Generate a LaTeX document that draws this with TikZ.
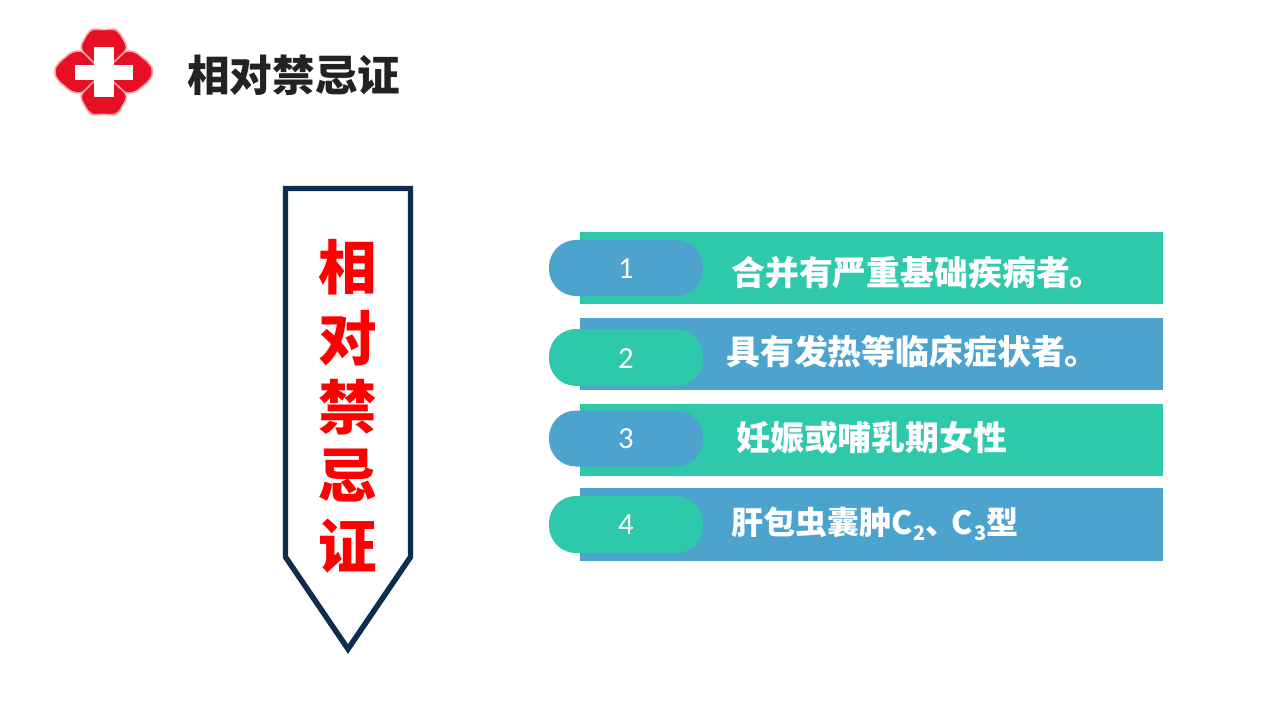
\documentclass[tikz,border=0pt]{standalone}
\usepackage{fontspec}
\setmainfont{Carlito}
\newfontfamily\cjk{Noto Sans CJK SC}
\definecolor{teal1}{HTML}{2EC8AA}
\definecolor{blue1}{HTML}{4BA3CE}
\definecolor{navy1}{HTML}{0F2D50}
\definecolor{logored}{HTML}{E60F23}
\definecolor{logopink}{HTML}{F7A8AE}
\definecolor{titleink}{HTML}{222222}
\newcommand{\subdigit}[1]{\raisebox{-5pt}{\fontsize{15}{17}\selectfont #1}}
\tikzset{
  barbox/.style={draw=none,minimum width=583*0.75pt,minimum height=72*0.75pt,inner sep=0pt,anchor=north west},
  pillbox/.style={draw=none,rounded corners=27*0.75pt,minimum width=154*0.75pt,minimum height=56*0.75pt,inner sep=0pt},
  numtext/.style={text=white,font=\fontsize{23}{26}\selectfont,inner sep=0pt},
  bartext/.style={text=white,font=\cjk\bfseries\fontsize{25.4}{28}\selectfont,inner sep=0pt,anchor=west},
  vchar/.style={text=red,font=\cjk\bfseries\fontsize{44}{48}\selectfont,inner sep=0pt},
  lobe/.style={fill=logored,draw=logopink,line width=1.2pt,line join=round,rounded corners=4pt},
}
\begin{document}
\begin{tikzpicture}[x=0.75pt,y=-0.75pt]
\useasboundingbox (0,0) rectangle (1280,720);
\fill[white] (0,0) rectangle (1280,720);
% logo
\begin{scope}[shift={(40,15)},x=0.25pt,y=-0.25pt]
\draw[lobe] (42,170)--(50,148)--(98,108)--(132,108)--(190,172)--(132,234)--(98,234)--(50,194)--cycle;
\draw[lobe] (340,170)--(332,148)--(284,108)--(250,108)--(190,172)--(250,234)--(284,234)--(332,194)--cycle;
\draw[lobe] (190,46)--(218,40)--(236,48)--(265,100)--(190,172)--(118,100)--(146,48)--(164,40)--cycle;
\draw[lobe] (190,296)--(218,302)--(236,294)--(265,242)--(190,172)--(118,242)--(146,294)--(164,302)--cycle;
\fill[white] (163,95) rectangle (222,247);
\fill[white] (105,150) rectangle (278,195);
\end{scope}
\node[text=titleink,font=\cjk\bfseries\fontsize{32}{36}\selectfont,inner sep=0pt,anchor=west] (title) at (187,75) {相对禁忌证};
% pentagon
\draw[draw=navy1,line width=4.1pt,line join=miter,fill=white] (285.5,188.5)--(410.5,188.5)--(410.5,557)--(348,649)--(285.5,557)--cycle;
\node[vchar] (c1) at (348,267) {相};
\node[vchar] (c2) at (348,338) {对};
\node[vchar] (c3) at (348,407) {禁};
\node[vchar] (c4) at (348,476) {忌};
\node[vchar] (c5) at (348,546) {证};
% bars
\node[barbox,fill=teal1] (b1) at (580,232) {};
\node[barbox,fill=blue1] (b2) at (580,318) {};
\node[barbox,fill=teal1] (b3) at (580,404) {};
\node[barbox,fill=blue1,minimum height=73*0.75pt] (b4) at (580,488) {};
% pills
\node[pillbox,fill=blue1] (p1) at (626,268) {};
\node[pillbox,fill=teal1,minimum height=57*0.75pt] (p2) at (626,357.5) {};
\node[pillbox,fill=blue1] (p3) at (626,438.5) {};
\node[pillbox,fill=teal1,minimum height=57*0.75pt] (p4) at (626,524.5) {};
\node[numtext] (n1) at (626,269) {1};
\node[numtext] (n2) at (626,359) {2};
\node[numtext] (n3) at (626,439) {3};
\node[numtext] (n4) at (626,525) {4};
\node[bartext] (t1) at (731,272.5) {合并有严重基础疾病者。};
\node[bartext] (t2) at (726,351) {具有发热等临床症状者。};
\node[bartext] (t3) at (736,437.5) {妊娠或哺乳期女性};
\node[bartext,font=\cjk\bfseries\fontsize{24}{28}\selectfont] (t4) at (731,524) {肝包虫囊肿C\kern0.5pt\subdigit{2}、\kern-4.5ptC\kern1pt\subdigit{3}型};
\end{tikzpicture}
\end{document}
